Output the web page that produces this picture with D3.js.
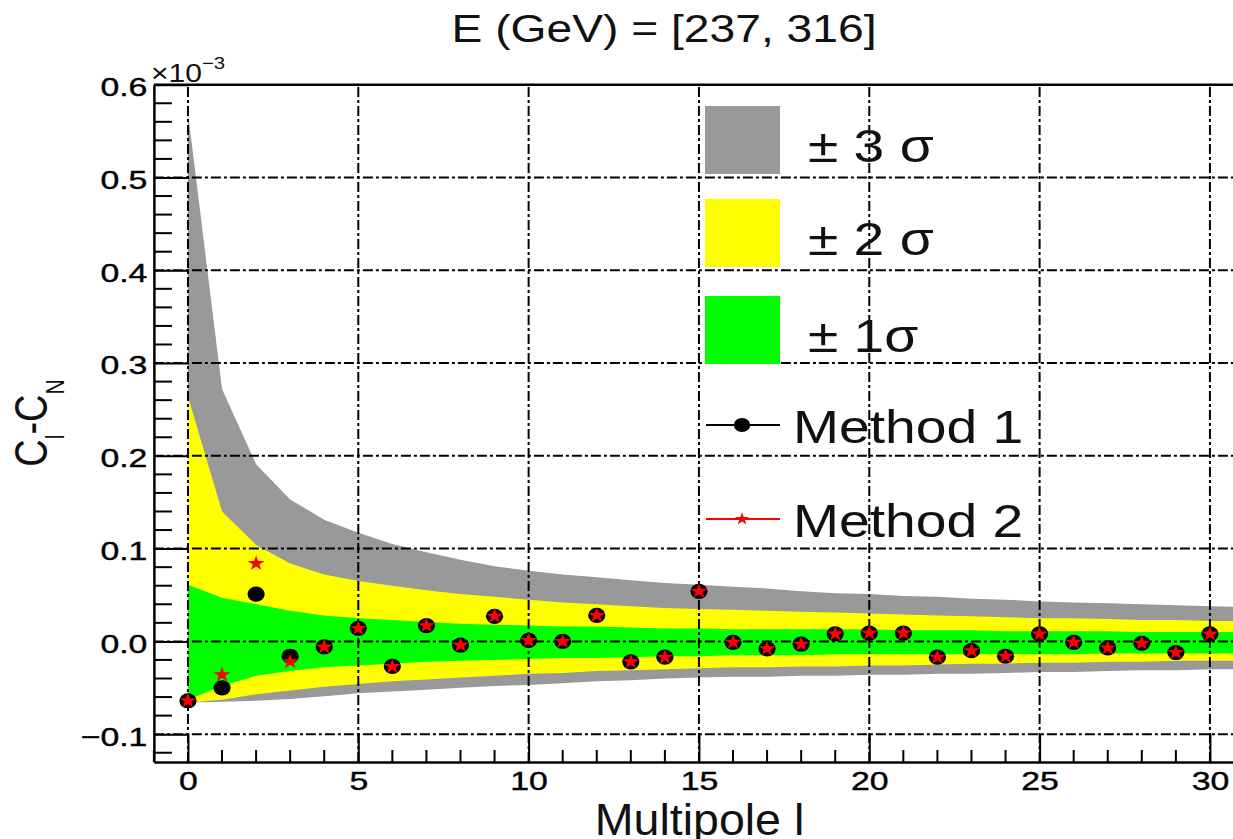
<!DOCTYPE html>
<html lang="en">
<head>
<meta charset="utf-8">
<title>E (GeV) = [237, 316]</title>
<script src="https://cdn.jsdelivr.net/npm/d3@7"></script>
<style>
    * {
        margin: 0;
        padding: 0;
    }

    body {
        background: #fff;
        font-family: 'Liberation Sans', Arial, sans-serif;
    }

    svg {
        display: block;
    }
</style>
</head>
<body>
<svg id="chart" width="1233" height="839"></svg>
<script>
    // multipole l for the bands
    var ell = [0, 1, 2, 3, 4, 5, 6, 7, 8, 9, 10, 11, 12, 13, 14, 15,
        16, 17, 18, 19, 20, 21, 22, 23, 24, 25, 26, 27, 28, 29, 30, 31];

    // band edges, in units of 1e-3
    var sig3Hi = [0.570, 0.272, 0.191, 0.153, 0.131, 0.117, 0.105, 0.096, 0.088, 0.081, 0.076, 0.072, 0.069, 0.066, 0.063, 0.061,
        0.059, 0.057, 0.054, 0.052, 0.051, 0.049, 0.048, 0.046, 0.045, 0.043, 0.042, 0.041, 0.040, 0.039, 0.038, 0.037];
    var sig3Lo = [-0.066, -0.065, -0.064, -0.062, -0.059, -0.056, -0.054, -0.052, -0.050, -0.048, -0.047, -0.045, -0.043, -0.042, -0.040, -0.039,
        -0.038, -0.038, -0.037, -0.037, -0.036, -0.036, -0.035, -0.035, -0.034, -0.033, -0.033, -0.032, -0.031, -0.031, -0.030, -0.030];
    var sig2Hi = [0.264, 0.140, 0.104, 0.084, 0.072, 0.065, 0.060, 0.055, 0.051, 0.048, 0.045, 0.042, 0.040, 0.038, 0.036, 0.035,
        0.034, 0.033, 0.032, 0.031, 0.030, 0.029, 0.028, 0.027, 0.026, 0.025, 0.025, 0.024, 0.023, 0.023, 0.022, 0.022];
    var sig2Lo = [-0.066, -0.063, -0.057, -0.053, -0.049, -0.046, -0.043, -0.041, -0.039, -0.037, -0.035, -0.034, -0.032, -0.031, -0.030, -0.029,
        -0.028, -0.028, -0.027, -0.027, -0.026, -0.026, -0.025, -0.024, -0.024, -0.023, -0.023, -0.022, -0.022, -0.021, -0.021, -0.021];
    var sig1Hi = [0.061, 0.047, 0.040, 0.033, 0.028, 0.025, 0.023, 0.021, 0.019, 0.018, 0.017, 0.016, 0.016, 0.015, 0.014, 0.014,
        0.013, 0.013, 0.013, 0.013, 0.013, 0.012, 0.012, 0.012, 0.011, 0.011, 0.011, 0.011, 0.010, 0.010, 0.010, 0.010];
    var sig1Lo = [-0.063, -0.048, -0.037, -0.032, -0.028, -0.026, -0.024, -0.022, -0.021, -0.020, -0.019, -0.018, -0.018, -0.017, -0.016, -0.016,
        -0.015, -0.015, -0.015, -0.014, -0.014, -0.014, -0.014, -0.014, -0.014, -0.014, -0.014, -0.013, -0.013, -0.013, -0.013, -0.013];

    // measured points, l = 0..30
    var pointL = [0, 1, 2, 3, 4, 5, 6, 7, 8, 9, 10, 11, 12, 13, 14, 15,
        16, 17, 18, 19, 20, 21, 22, 23, 24, 25, 26, 27, 28, 29, 30];
    var method1 = [-0.064, -0.050, 0.051, -0.016, -0.006, 0.014, -0.027, 0.017, -0.004, 0.027, 0.001, 0.000, 0.028, -0.022, -0.017, 0.054,
        -0.001, -0.008, -0.003, 0.008, 0.009, 0.009, -0.017, -0.010, -0.016, 0.008, -0.001, -0.007, -0.002, -0.012, 0.008];
    var method2 = [-0.064, -0.036, 0.084, -0.022, -0.006, 0.014, -0.027, 0.017, -0.004, 0.027, 0.001, 0.000, 0.028, -0.022, -0.017, 0.054,
        -0.001, -0.008, -0.003, 0.008, 0.009, 0.009, -0.017, -0.010, -0.016, 0.008, -0.001, -0.007, -0.002, -0.012, 0.008];

    var xTicks = [0, 5, 10, 15, 20, 25, 30];
    var yTicks = [-0.1, 0.0, 0.1, 0.2, 0.3, 0.4, 0.5];
    var xMinor = [-1, 1, 2, 3, 4, 6, 7, 8, 9, 11, 12, 13, 14, 16, 17, 18, 19, 21, 22, 23, 24, 26, 27, 28, 29, 31];
    var yMinor = [-0.12, -0.08, -0.06, -0.04, -0.02, 0.02, 0.04, 0.06, 0.08, 0.12, 0.14, 0.16, 0.18,
        0.22, 0.24, 0.26, 0.28, 0.32, 0.34, 0.36, 0.38, 0.42, 0.44, 0.46, 0.48, 0.52, 0.54, 0.56, 0.58];

    var plotL = 153.9, plotR = 1244, plotT = 84.7, plotB = 762;

    var svg = d3.select("#chart");

    var x = d3.scaleLinear().domain([-1, 31]).range([plotL, plotR]);
    var y = d3.scaleLinear().domain([-0.13, 0.6]).range([plotB, plotT]);

    svg.append("defs").append("clipPath").attr("id", "plot")
        .append("rect")
        .attr("x", plotL).attr("y", plotT)
        .attr("width", plotR - plotL).attr("height", plotB - plotT);

    var plot = svg.append("g").attr("clip-path", "url(#plot)");

    // bands
    var bands = [
        { hi: sig3Hi, lo: sig3Lo, color: "#999999" },
        { hi: sig2Hi, lo: sig2Lo, color: "#ffff00" },
        { hi: sig1Hi, lo: sig1Lo, color: "#00ff00" }
    ];
    bands.forEach(function (b) {
        var area = d3.area()
            .x(function (d, i) { return x(ell[i]); })
            .y0(function (d, i) { return y(b.lo[i]); })
            .y1(function (d, i) { return y(b.hi[i]); });
        plot.append("path")
            .datum(ell)
            .attr("d", area)
            .style("fill", b.color);
    });

    // dash-dot grid
    var dash = "10,3,3,3";
    plot.selectAll(".vgrid")
        .data(xTicks)
        .enter()
        .append("line")
        .attr("x1", function (d) { return x(d); })
        .attr("x2", function (d) { return x(d); })
        .attr("y1", plotB).attr("y2", plotT)
        .style("stroke", "#000").style("stroke-width", 2)
        .style("stroke-dasharray", dash);
    plot.selectAll(".hgrid")
        .data(yTicks)
        .enter()
        .append("line")
        .attr("x1", plotL).attr("x2", plotR)
        .attr("y1", function (d) { return y(d); })
        .attr("y2", function (d) { return y(d); })
        .style("stroke", "#000").style("stroke-width", 2)
        .style("stroke-dasharray", dash);

    // axes
    var tickFont = 26, tickSx = 1.3;

    var yAxis = svg.append("g")
        .attr("transform", "translate(" + plotL + ",0)")
        .call(d3.axisLeft(y).tickValues(yTicks.concat([0.6])).tickSize(-35).tickSizeOuter(0)
            .tickPadding(5).tickFormat(d3.format(".1f")));
    yAxis.selectAll(".tick line").style("stroke-width", 2);
    yAxis.selectAll("text")
        .attr("dy", "0.42em")
        .attr("transform", "scale(" + tickSx + ",1)");

    var xAxis = svg.append("g")
        .attr("transform", "translate(0," + plotB + ")")
        .call(d3.axisBottom(x).tickValues(xTicks).tickSize(-28).tickSizeOuter(0)
            .tickPadding(10).tickFormat(d3.format("d")));
    xAxis.selectAll(".tick line").style("stroke-width", 2);
    xAxis.selectAll("text")
        .attr("transform", "scale(" + tickSx + ",1)");

    [yAxis, xAxis].forEach(function (a) {
        a.attr("font-family", "'Liberation Sans', Arial, sans-serif")
            .attr("font-size", tickFont);
        a.selectAll("text").style("fill", "#000").style("stroke", "#000").style("stroke-width", 0.4);
        a.select(".domain").style("stroke-width", 2.5);
    });

    svg.selectAll(".yminor")
        .data(yMinor)
        .enter()
        .append("line")
        .attr("x1", plotL).attr("x2", plotL + 18)
        .attr("y1", function (d) { return y(d); })
        .attr("y2", function (d) { return y(d); })
        .style("stroke", "#000").style("stroke-width", 2);
    svg.selectAll(".xminor")
        .data(xMinor)
        .enter()
        .append("line")
        .attr("x1", function (d) { return x(d); })
        .attr("x2", function (d) { return x(d); })
        .attr("y1", plotB).attr("y2", plotB - 12)
        .style("stroke", "#000").style("stroke-width", 2);

    // top frame
    svg.append("line")
        .attr("x1", plotL).attr("x2", plotR)
        .attr("y1", plotT).attr("y2", plotT)
        .style("stroke", "#000").style("stroke-width", 2.5);

    // points
    var star = d3.symbol().type(d3.symbolStar).size(72);

    svg.append("g").selectAll("ellipse")
        .data(pointL)
        .enter()
        .append("ellipse")
        .attr("cx", function (d) { return x(d); })
        .attr("cy", function (d, i) { return y(method1[i]); })
        .attr("rx", 8.6).attr("ry", 7.6)
        .style("fill", "#000");

    svg.append("g").selectAll("path")
        .data(pointL)
        .enter()
        .append("path")
        .attr("d", star)
        .attr("transform", function (d, i) {
            return "translate(" + x(d) + "," + y(method2[i]) + ") scale(1.12,1)";
        })
        .style("fill", "#ff0000");

    // text helper, the picture is stretched sideways
    function label(str, px, py, size, sx, anchor) {
        return svg.append("text")
            .attr("transform", "translate(" + px + "," + py + ") scale(" + sx + ",1)")
            .attr("text-anchor", anchor)
            .attr("font-size", size)
            .style("fill", "#111")
            .text(str);
    }

    label("E (GeV) = [237, 316]", 664, 41.7, 39.5, 1.17, "middle");
    label("Multipole l", 699.5, 835, 43.5, 1.07, "middle");

    var expo = label("\u00d710", 151, 82, 25, 1.2, "start");
    expo.append("tspan").attr("dy", -13).attr("font-size", 17).text("\u22123");

    var yl = svg.append("text")
        .attr("transform", "translate(47,423) rotate(-90) scale(1,1.2)")
        .attr("text-anchor", "middle")
        .attr("font-size", 38)
        .style("fill", "#111");
    yl.append("tspan").text("C");
    yl.append("tspan").attr("dy", 14).attr("font-size", 21).text("l");
    yl.append("tspan").attr("dy", -14).text("-C");
    yl.append("tspan").attr("dy", 14).attr("font-size", 21).text("N");

    // legend
    var boxes = [
        { top: 106, color: "#999999", text: "\u00b1 3 \u03c3" },
        { top: 199, color: "#ffff00", text: "\u00b1 2 \u03c3" },
        { top: 296, color: "#00ff00", text: "\u00b1 1\u03c3" }
    ];
    boxes.forEach(function (b) {
        svg.append("rect")
            .attr("x", 705).attr("y", b.top)
            .attr("width", 75).attr("height", 68)
            .style("fill", b.color);
        label(b.text, 808, b.top + 56, 46, 1.2, "start");
    });

    svg.append("line").attr("x1", 706).attr("x2", 780).attr("y1", 425).attr("y2", 425)
        .style("stroke", "#000").style("stroke-width", 2);
    svg.append("ellipse").attr("cx", 742).attr("cy", 425).attr("rx", 8.2).attr("ry", 7)
        .style("fill", "#000");
    label("Method 1", 793, 443, 46, 1.2, "start");

    svg.append("line").attr("x1", 706).attr("x2", 780).attr("y1", 519).attr("y2", 519)
        .style("stroke", "#ff0000").style("stroke-width", 2);
    svg.append("path").attr("d", d3.symbol().type(d3.symbolStar).size(50))
        .attr("transform", "translate(742,519) scale(1.12,1)")
        .style("fill", "#ff0000");
    label("Method 2", 793, 537, 46, 1.2, "start");
</script>
</body>
</html>
